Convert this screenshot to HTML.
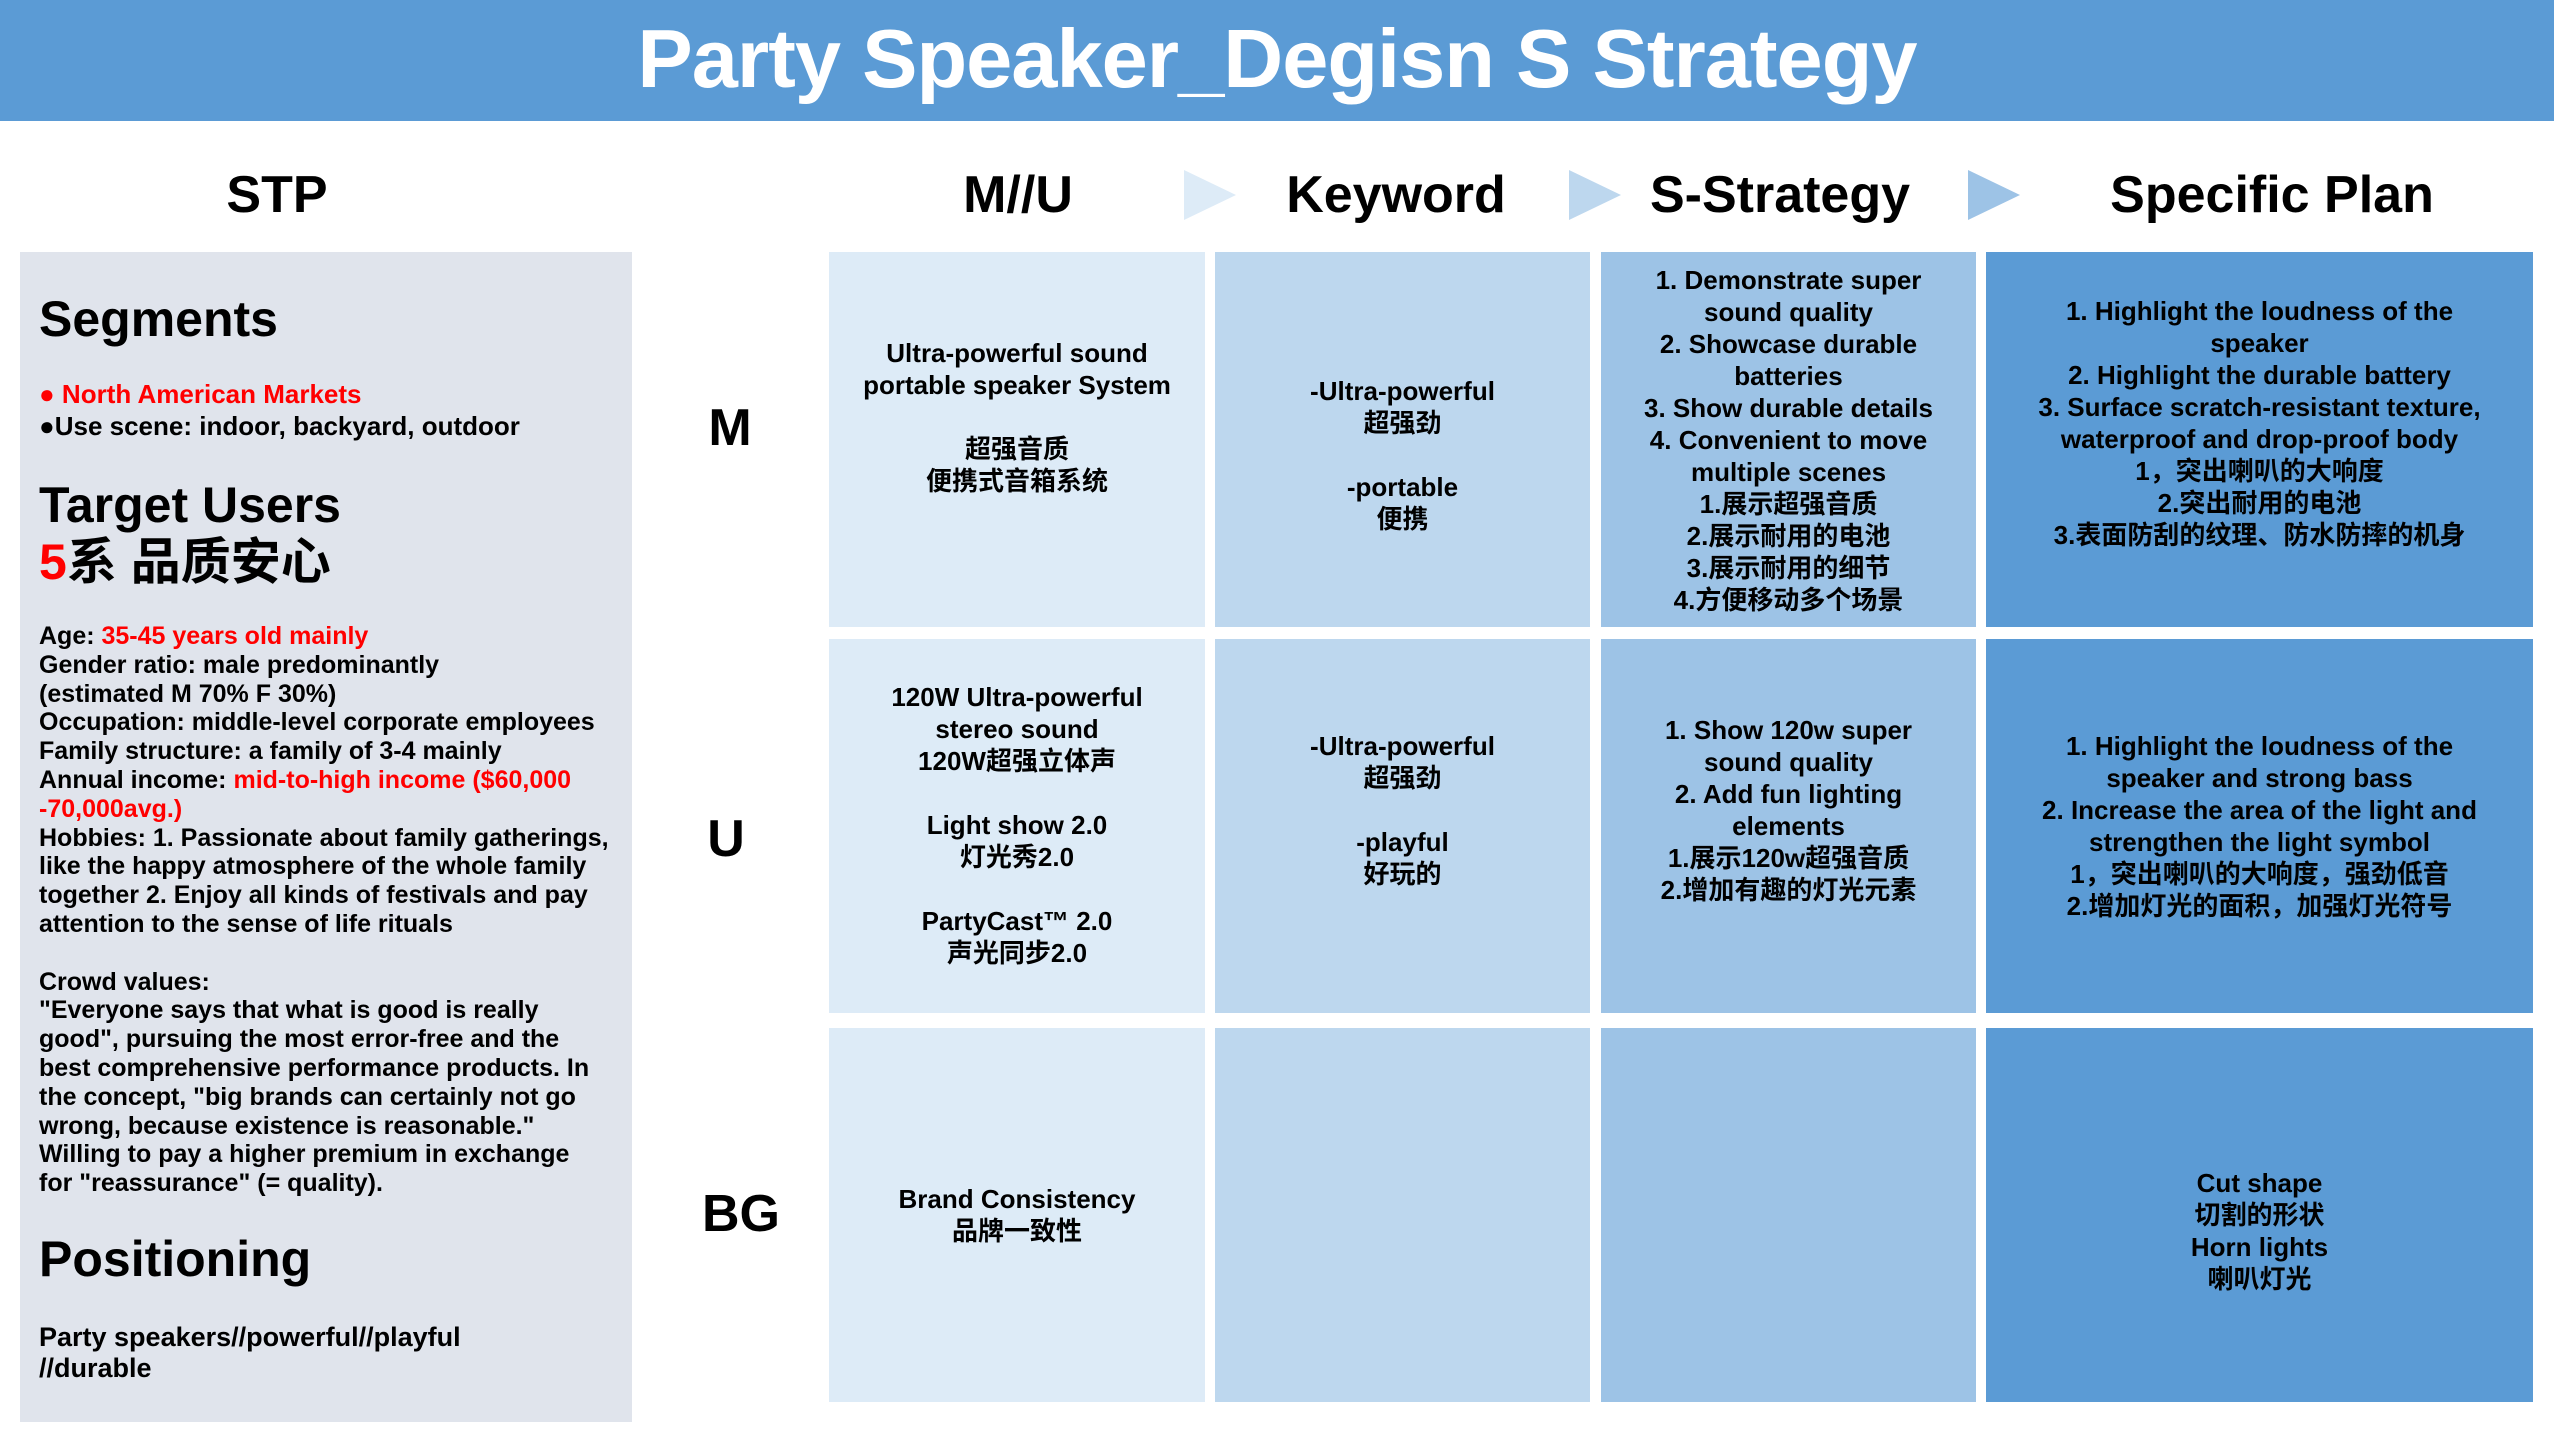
<!DOCTYPE html>
<html><head><meta charset="utf-8">
<style>
*{margin:0;padding:0;box-sizing:border-box}
body{width:2554px;height:1437px;background:#fff;position:relative;overflow:hidden;font-family:"Liberation Sans","Noto Sans CJK SC",sans-serif;font-weight:bold;color:#000}
.abs{position:absolute}
.hdr{left:0;top:0;width:2554px;height:121px;background:#5b9bd5}
.title{left:0;top:0;width:2554px;height:121px;line-height:118px;text-align:center;color:#fff;font-size:83px;letter-spacing:-1px}
.colh{top:160px;height:70px;line-height:70px;font-size:52px;text-align:center;width:500px}
.tri{width:0;height:0;border-top:25px solid transparent;border-bottom:25px solid transparent;border-left:52px solid}
.panel{left:20px;top:252px;width:612px;height:1170px;background:#e0e4ec}
.lt{left:39px;white-space:nowrap;font-size:25px;line-height:28.8px}
.h2{left:39px;font-size:50px;line-height:60px;white-space:nowrap}
.red{color:#f00}
.cell{position:absolute}
.c1{background:#ddebf7}.c2{background:#bdd7ee}.c3{background:#9dc3e6}.c4{background:#5b9bd5}
.ct{position:absolute;text-align:center;font-size:26px;line-height:32px;white-space:nowrap}
.rl{font-size:52px;line-height:60px;width:120px;text-align:center}
</style></head><body>
<div class="abs hdr"></div>
<div class="abs title">Party Speaker_Degisn S Strategy</div>

<div class="abs colh" style="left:27px">STP</div>
<div class="abs colh" style="left:768px">M//U</div>
<div class="abs colh" style="left:1146px">Keyword</div>
<div class="abs colh" style="left:1530px">S-Strategy</div>
<div class="abs colh" style="left:2022px">Specific Plan</div>
<div class="abs tri" style="left:1184px;top:170px;border-left-color:#ddebf7"></div>
<div class="abs tri" style="left:1569px;top:170px;border-left-color:#bdd7ee"></div>
<div class="abs tri" style="left:1968px;top:170px;border-left-color:#9dc3e6"></div>

<div class="abs panel"></div>
<div class="abs h2" style="top:289px">Segments</div>
<div class="abs lt" style="top:380px;font-size:26px"><span class="red">● North American Markets</span></div>
<div class="abs lt" style="top:412px;font-size:26px">●Use scene: indoor, backyard, outdoor</div>
<div class="abs h2" style="top:475px">Target Users</div>
<div class="abs h2" style="top:532px"><span class="red">5</span>系 品质安心</div>
<div class="abs lt" style="top:622px">
Age: <span class="red">35-45 years old mainly</span><br>
Gender ratio: male predominantly<br>
(estimated M 70% F 30%)<br>
Occupation: middle-level corporate employees<br>
Family structure: a family of 3-4 mainly<br>
Annual income: <span class="red">mid-to-high income ($60,000</span><br>
<span class="red">-70,000avg.)</span><br>
Hobbies: 1. Passionate about family gatherings,<br>
like the happy atmosphere of the whole family<br>
together 2. Enjoy all kinds of festivals and pay<br>
attention to the sense of life rituals<br>
<br>
Crowd values:<br>
"Everyone says that what is good is really<br>
good", pursuing the most error-free and the<br>
best comprehensive performance products. In<br>
the concept, "big brands can certainly not go<br>
wrong, because existence is reasonable."<br>
Willing to pay a higher premium in exchange<br>
for "reassurance" (= quality).
</div>
<div class="abs h2" style="top:1229px">Positioning</div>
<div class="abs lt" style="top:1322px;font-size:27px;line-height:31px">Party speakers//powerful//playful<br>//durable</div>

<div class="abs rl" style="left:670px;top:398px">M</div>
<div class="abs rl" style="left:666px;top:809px">U</div>
<div class="abs rl" style="left:681px;top:1184px">BG</div>

<div class="cell c1" style="left:829px;top:252px;width:376px;height:375px"></div>
<div class="cell c2" style="left:1215px;top:252px;width:375px;height:375px"></div>
<div class="cell c3" style="left:1601px;top:252px;width:375px;height:375px"></div>
<div class="cell c4" style="left:1986px;top:252px;width:547px;height:375px"></div>
<div class="cell c1" style="left:829px;top:639px;width:376px;height:374px"></div>
<div class="cell c2" style="left:1215px;top:639px;width:375px;height:374px"></div>
<div class="cell c3" style="left:1601px;top:639px;width:375px;height:374px"></div>
<div class="cell c4" style="left:1986px;top:639px;width:547px;height:374px"></div>
<div class="cell c1" style="left:829px;top:1028px;width:376px;height:374px"></div>
<div class="cell c2" style="left:1215px;top:1028px;width:375px;height:374px"></div>
<div class="cell c3" style="left:1601px;top:1028px;width:375px;height:374px"></div>
<div class="cell c4" style="left:1986px;top:1028px;width:547px;height:374px"></div>

<div class="ct" style="left:829px;width:376px;top:337px">Ultra-powerful sound<br>portable speaker System<br><br>超强音质<br>便携式音箱系统</div>
<div class="ct" style="left:1215px;width:375px;top:375px">-Ultra-powerful<br>超强劲<br><br>-portable<br>便携</div>
<div class="ct" style="left:1601px;width:375px;top:264px">1. Demonstrate super<br>sound quality<br>2. Showcase durable<br>batteries<br>3. Show durable details<br>4. Convenient to move<br>multiple scenes<br>1.展示超强音质<br>2.展示耐用的电池<br>3.展示耐用的细节<br>4.方便移动多个场景</div>
<div class="ct" style="left:1986px;width:547px;top:295px;font-size:26px">1. Highlight the loudness of the<br>speaker<br>2. Highlight the durable battery<br>3. Surface scratch-resistant texture,<br>waterproof and drop-proof body<br>1，突出喇叭的大响度<br>2.突出耐用的电池<br>3.表面防刮的纹理、防水防摔的机身</div>

<div class="ct" style="left:829px;width:376px;top:681px">120W Ultra-powerful<br>stereo sound<br>120W超强立体声<br><br>Light show 2.0<br>灯光秀2.0<br><br>PartyCast™ 2.0<br>声光同步2.0</div>
<div class="ct" style="left:1215px;width:375px;top:730px">-Ultra-powerful<br>超强劲<br><br>-playful<br>好玩的</div>
<div class="ct" style="left:1601px;width:375px;top:714px">1. Show 120w super<br>sound quality<br>2. Add fun lighting<br>elements<br>1.展示120w超强音质<br>2.增加有趣的灯光元素</div>
<div class="ct" style="left:1986px;width:547px;top:730px;font-size:26px">1. Highlight the loudness of the<br>speaker and strong bass<br>2. Increase the area of the light and<br>strengthen the light symbol<br>1，突出喇叭的大响度，强劲低音<br>2.增加灯光的面积，加强灯光符号</div>

<div class="ct" style="left:829px;width:376px;top:1183px">Brand Consistency<br>品牌一致性</div>
<div class="ct" style="left:1986px;width:547px;top:1167px">Cut shape<br>切割的形状<br>Horn lights<br>喇叭灯光</div>
</body></html>
